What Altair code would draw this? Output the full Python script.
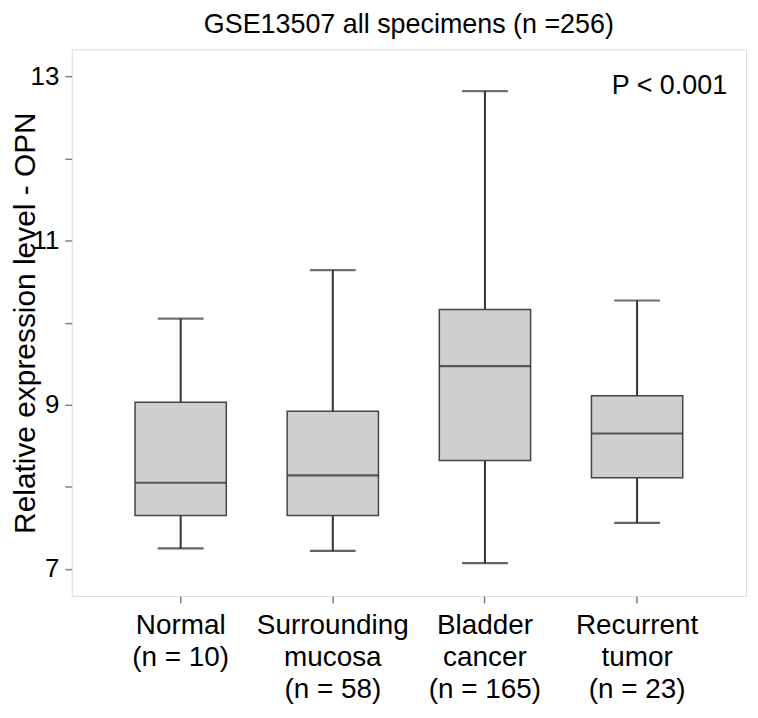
import altair as alt
import pandas as pd

# ---- data ----
groups = ["Normal\n(n = 10)", "Surrounding\nmucosa\n(n = 58)",
          "Bladder\ncancer\n(n = 165)", "Recurrent\ntumor\n(n = 23)"]
lower = [7.25, 7.22, 7.07, 7.56]
q1 = [7.65, 7.65, 8.32, 8.11]
median = [8.05, 8.14, 9.47, 8.65]
q3 = [9.03, 8.92, 10.16, 9.11]
upper = [10.05, 10.64, 12.82, 10.27]

y_ticks = [7, 8, 9, 10, 11, 12, 13]
p_text = ["P < 0.001"]
p_y = [12.78]

df = pd.DataFrame({"group": groups, "lower": lower, "q1": q1,
                   "median": median, "q3": q3, "upper": upper})
pdf = pd.DataFrame({"txt": p_text, "y": p_y})

FONT = "Liberation Sans"
YTITLE = "Relative expression level - OPN"

xscale = alt.Scale(paddingInner=0.4, paddingOuter=0.416)
xaxis = alt.Axis(title=None, labelAngle=0, labelExpr="split(datum.label, '\\n')",
                 labelFontSize=28, labelLineHeight=32, labelColor="black",
                 labelPadding=9, tickSize=7, tickColor="#808080", tickWidth=1.5,
                 domain=False, labelFont=FONT)
yscale = alt.Scale(domain=[6.67, 13.33], nice=False, zero=False)
yaxis = alt.Axis(values=y_ticks, labelExpr="datum.value % 2 == 1 ? datum.label : ''",
                 labelFontSize=26, labelColor="black", labelPadding=6,
                 tickSize=7, tickColor="#808080", tickWidth=1.5,
                 grid=False, domain=False, titleFontSize=30, titleFontWeight="normal",
                 titleColor="black", titleX=-46, titleY=274.5, titleAngle=270,
                 titleAlign="center", titleBaseline="middle",
                 labelFont=FONT, titleFont=FONT)


def X():
    return alt.X("group:N", sort=groups, scale=xscale, axis=xaxis)


def Y(field):
    return alt.Y(f"{field}:Q", scale=yscale, axis=yaxis, title=YTITLE)


base = alt.Chart(df)

whisker = base.mark_rule(color="#333333", strokeWidth=2).encode(
    x=X(), y=Y("lower"), y2="upper:Q")
box = base.mark_bar(fill="#cfcfcf", stroke="#454545", strokeWidth=1.5).encode(
    x=X(), y=Y("q1"), y2="q3:Q")
med = base.mark_tick(color="#222222", thickness=2.2, size=91).encode(
    x=X(), y=Y("median"))
cap_lo = base.mark_tick(color="#222222", thickness=2.2, size=46).encode(
    x=X(), y=Y("lower"))
cap_hi = base.mark_tick(color="#333333", thickness=2.2, size=46).encode(
    x=X(), y=Y("upper"))
ptxt = alt.Chart(pdf).mark_text(align="right", baseline="alphabetic", fontSize=27,
                                font=FONT, color="black").encode(
    x=alt.value(658), y=Y("y"), text="txt:N")

chart = alt.layer(whisker, box, med, cap_lo, cap_hi, ptxt).properties(
    width=677, height=549,
    title=alt.TitleParams("GSE13507 all specimens (n =256)", fontSize=27,
                          fontWeight="normal", anchor="middle", font=FONT,
                          color="black", offset=10),
    autosize=alt.AutoSizeParams(type="none"),
    padding={"left": 64, "top": 40, "right": 4, "bottom": 110},
).configure_view(stroke="#7a7a7a", strokeWidth=2).configure(font=FONT)

chart.save("out.html", embed_options={"renderer": "svg", "actions": False})
